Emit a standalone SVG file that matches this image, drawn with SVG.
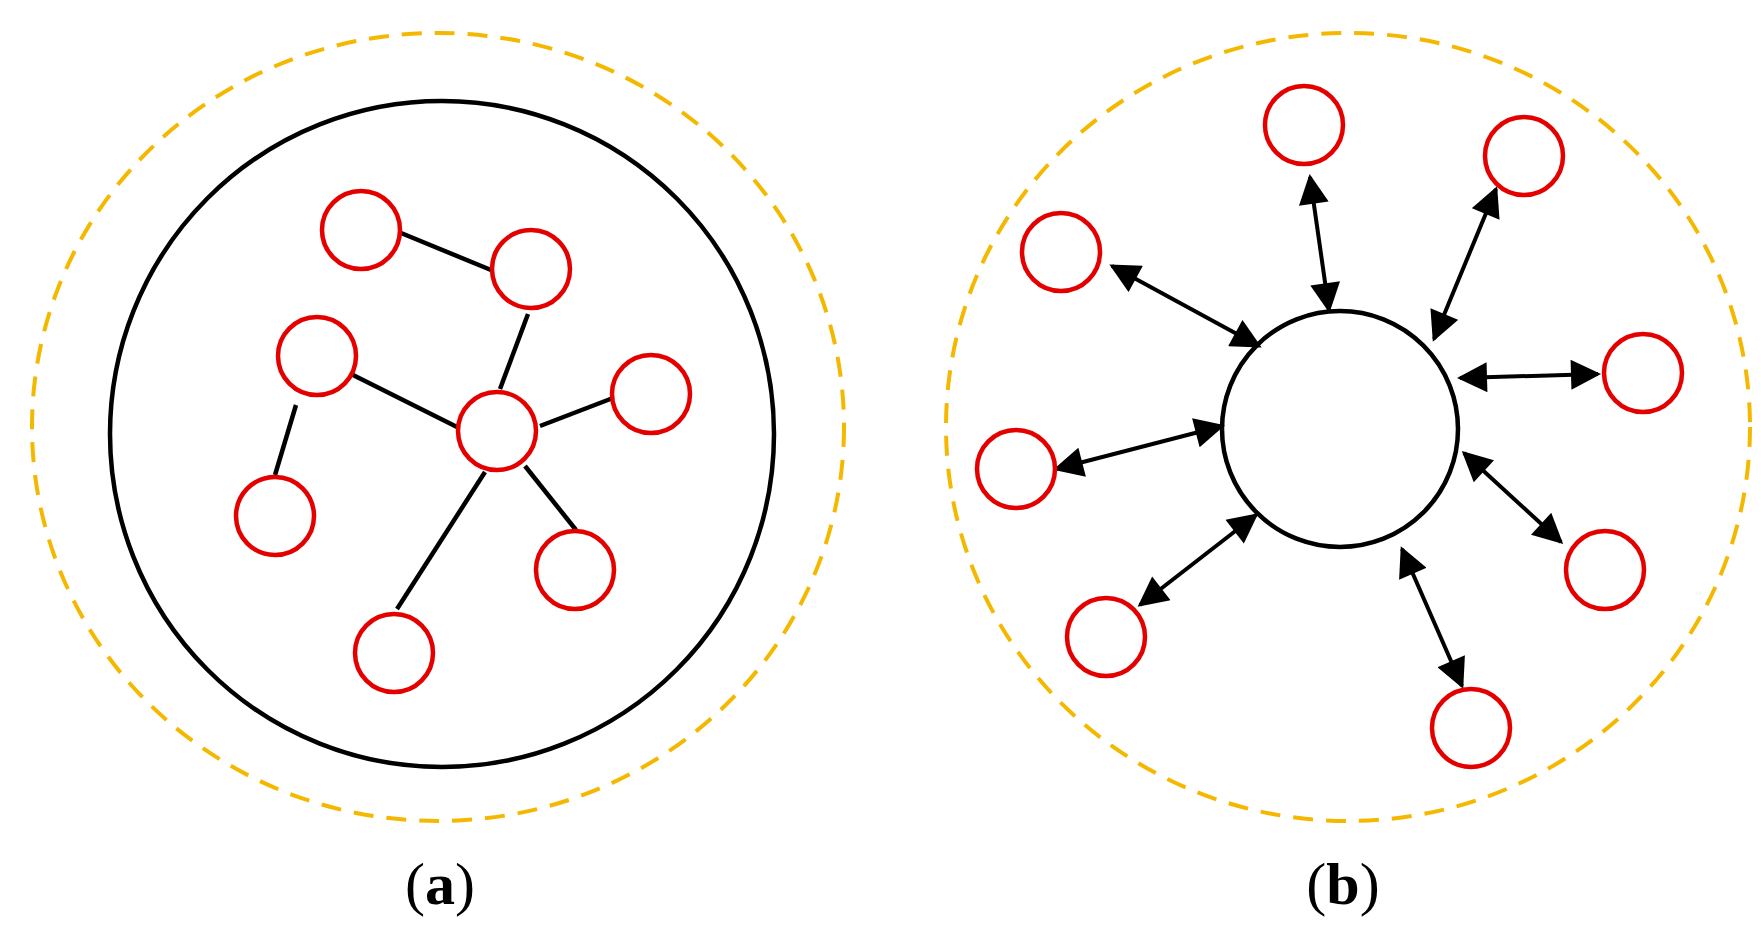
<svg xmlns="http://www.w3.org/2000/svg" width="1761" height="927" viewBox="0 0 1761 927">
<style>
.dash{fill:none;stroke:#f5b800;stroke-width:4;stroke-dasharray:20 13}
.blk{fill:#fff;stroke:#000;stroke-width:4.5}
.red{fill:#fff;stroke:#e50000;stroke-width:4.5}
.ln{stroke:#000;stroke-width:4.5;fill:none}
.ar{stroke:#000;stroke-width:4;fill:none;marker-start:url(#h);marker-end:url(#h)}
.lbl{font-family:"Liberation Serif",serif;font-size:60px;text-anchor:middle}
</style>
<defs>
<marker id="h" viewBox="0 0 10 10" refX="9" refY="5" markerWidth="32" markerHeight="30" markerUnits="userSpaceOnUse" orient="auto-start-reverse">
<path d="M0,0 L10,5 L0,10 z" fill="#000"/>
</marker>
</defs>
<rect width="1761" height="927" fill="#fff"/>
<g id="outer-a"><ellipse class="dash" cx="438" cy="427" rx="406" ry="394"/></g>
<g id="outer-b"><ellipse class="dash" cx="1348" cy="427" rx="402" ry="394"/></g>
<g id="big-a"><ellipse class="blk" cx="442" cy="434" rx="332" ry="333"/></g>
<g id="center-b"><circle class="blk" cx="1340" cy="429" r="118"/></g>
<g id="connectors">
<line class="ln" x1="401" y1="233" x2="491" y2="270"/>
<line class="ln" x1="528" y1="314" x2="500" y2="389"/>
<line class="ln" x1="353" y1="375" x2="461" y2="429"/>
<line class="ln" x1="540" y1="426" x2="613" y2="398"/>
<line class="ln" x1="296" y1="405" x2="275" y2="475"/>
<line class="ln" x1="525" y1="466" x2="576" y2="530"/>
<line class="ln" x1="485" y1="472" x2="397" y2="609"/>
<line class="ar" x1="1310" y1="177" x2="1329" y2="310"/>
<line class="ar" x1="1496" y1="189" x2="1434" y2="339"/>
<line class="ar" x1="1112" y1="266" x2="1259" y2="346"/>
<line class="ar" x1="1460" y1="378" x2="1598" y2="374"/>
<line class="ar" x1="1222" y1="426" x2="1056" y2="469"/>
<line class="ar" x1="1464" y1="453" x2="1561" y2="542"/>
<line class="ar" x1="1256" y1="515" x2="1140" y2="605"/>
<line class="ar" x1="1402" y1="549" x2="1462" y2="686"/>
</g>
<g id="a1"><circle class="red" cx="361" cy="230" r="39"/></g>
<g id="a2"><circle class="red" cx="531" cy="269" r="39"/></g>
<g id="a3"><circle class="red" cx="317" cy="356" r="39"/></g>
<g id="a4"><circle class="red" cx="651" cy="394" r="39"/></g>
<g id="a5"><circle class="red" cx="497" cy="431" r="39"/></g>
<g id="a6"><circle class="red" cx="275" cy="516" r="39"/></g>
<g id="a7"><circle class="red" cx="575" cy="570" r="39"/></g>
<g id="a8"><circle class="red" cx="394" cy="653" r="39"/></g>
<g id="b1"><circle class="red" cx="1304" cy="125" r="39"/></g>
<g id="b2"><circle class="red" cx="1524" cy="156" r="39"/></g>
<g id="b3"><circle class="red" cx="1061" cy="252" r="39"/></g>
<g id="b4"><circle class="red" cx="1643" cy="373" r="39"/></g>
<g id="b5"><circle class="red" cx="1016" cy="469" r="39"/></g>
<g id="b6"><circle class="red" cx="1605" cy="570" r="39"/></g>
<g id="b7"><circle class="red" cx="1106" cy="637" r="39"/></g>
<g id="b8"><circle class="red" cx="1471" cy="728" r="39"/></g>
<g id="label-a"><text class="lbl" x="440" y="904">(<tspan font-weight="bold">a</tspan>)</text></g>
<g id="label-b"><text class="lbl" x="1343" y="904">(<tspan font-weight="bold">b</tspan>)</text></g>
</svg>
